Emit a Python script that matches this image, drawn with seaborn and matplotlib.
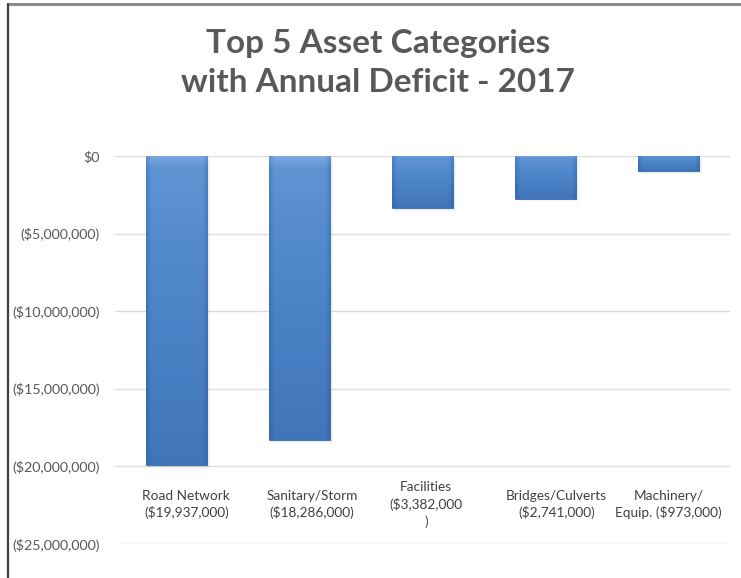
import numpy as np
import pandas as pd
import matplotlib
matplotlib.use("Agg")
import matplotlib.pyplot as plt
from matplotlib.lines import Line2D
from matplotlib.colors import LinearSegmentedColormap
from matplotlib.ticker import FuncFormatter
import seaborn as sns

# ---- data ----
categories = ["Road Network", "Sanitary/Storm", "Facilities", "Bridges/Culverts", "Machinery/Equip."]
deficits = [-19937000, -18286000, -3382000, -2741000, -973000]
category_labels = [
    "Road Network\n($19,937,000)",
    "Sanitary/Storm\n($18,286,000)",
    "Facilities\n($3,382,000\n)",
    "Bridges/Culverts\n($2,741,000)",
    "Machinery/\nEquip. ($973,000)",
]
y_ticks = [0, -5000000, -10000000, -15000000, -20000000, -25000000]
title_text = "Top 5 Asset Categories\nwith Annual Deficit - 2017"

df = pd.DataFrame({"category": categories, "deficit": deficits})

sns.set_theme(style="white")
plt.rcParams["font.family"] = ["Lato", "DejaVu Sans"]

W, H = 741, 578
fig = plt.figure(figsize=(W / 100, H / 100), dpi=100)
fig.patch.set_facecolor("white")

ax = fig.add_axes([115 / W, 1 - 544 / H, 615 / W, (544 - 156) / H])
sns.barplot(data=df, x="category", y="deficit", color="#4F86CB", width=0.5,
            saturation=1, ax=ax, zorder=3)

ax.set_xlim(-0.5, 4.5)
ax.set_ylim(-25000000, 0)
ax.set_yticks(y_ticks)


def money(v, pos):
    if v == 0:
        return "$0"
    return "(${:,.0f})".format(abs(v))


ax.yaxis.set_major_formatter(FuncFormatter(money))
ax.tick_params(axis="y", length=0, pad=11, labelsize=10.3, labelcolor="#595959")
ax.set_xticks([])
ax.set_xlabel("")
ax.set_ylabel("")
for s in ax.spines.values():
    s.set_visible(False)
ax.grid(axis="y", color="#DCDCDC", linewidth=1.0, zorder=0)
ax.set_axisbelow(True)

# bevelled gradient fill and soft shadow for each bar
vert = np.linspace(0, 1, 200)[:, None]
horiz = np.linspace(0, 1, 60)[None, :]
edge = np.minimum(horiz, 1 - horiz)
edge_dark = np.clip(1 - edge / 0.08, 0, 1) * 0.3
top_light = np.clip(1 - vert / 0.04, 0, 1) * -0.3
shade = np.clip(0.3 + 0.55 * vert + edge_dark + top_light, 0, 1)
cmap = LinearSegmentedColormap.from_list("bevel", ["#7EA8DF", "#5088CC", "#3A6DB2"])
for p in ax.patches:
    x0, y0 = p.get_x(), p.get_y()
    w, h = p.get_width(), p.get_height()
    top, bottom = max(y0, y0 + h), min(y0, y0 + h)
    for k, a in enumerate([0.08, 0.05, 0.03]):
        off = (k + 1) * 0.008
        ax.add_patch(plt.Rectangle((x0 + off, bottom - (k + 1) * 60000), w, top - bottom,
                                   facecolor="#000000", alpha=a, edgecolor="none", zorder=2))
    im = ax.imshow(shade, cmap=cmap, vmin=0, vmax=1, aspect="auto",
                   extent=(x0, x0 + w, bottom, top), origin="upper", zorder=3.5,
                   interpolation="bilinear")
    im.set_clip_path(p)
    p.set_edgecolor("#3A6BAE")
    p.set_linewidth(0.6)
ax.set_xlim(-0.5, 4.5)
ax.set_ylim(-25000000, 0)

# category labels under the bars
label_nudge = [0.08, 0.10, 0.03, 0.09, 0.0]
for i, lab in enumerate(category_labels):
    t = ax.text(i + label_nudge[i], -22450000, lab, ha="center", va="center",
                fontsize=9.8, color="#404040", linespacing=1.4, zorder=5)
    if i == 2:
        t.set_bbox(dict(facecolor="white", edgecolor="none", pad=5))

fig.text(0.51, 1 - 63 / H, title_text, ha="center", va="center",
         fontsize=24, fontweight="bold", color="#595959", linespacing=1.45)

# chart frame
fig.add_artist(Line2D([8 / W, 1], [1 - 4 / H, 1 - 4 / H], color="#8C8C8C", linewidth=2.2))
fig.add_artist(Line2D([8 / W, 8 / W], [0, 1 - 4 / H], color="#404040", linewidth=1.6))

fig.savefig("out.png", dpi=100, facecolor="white")
